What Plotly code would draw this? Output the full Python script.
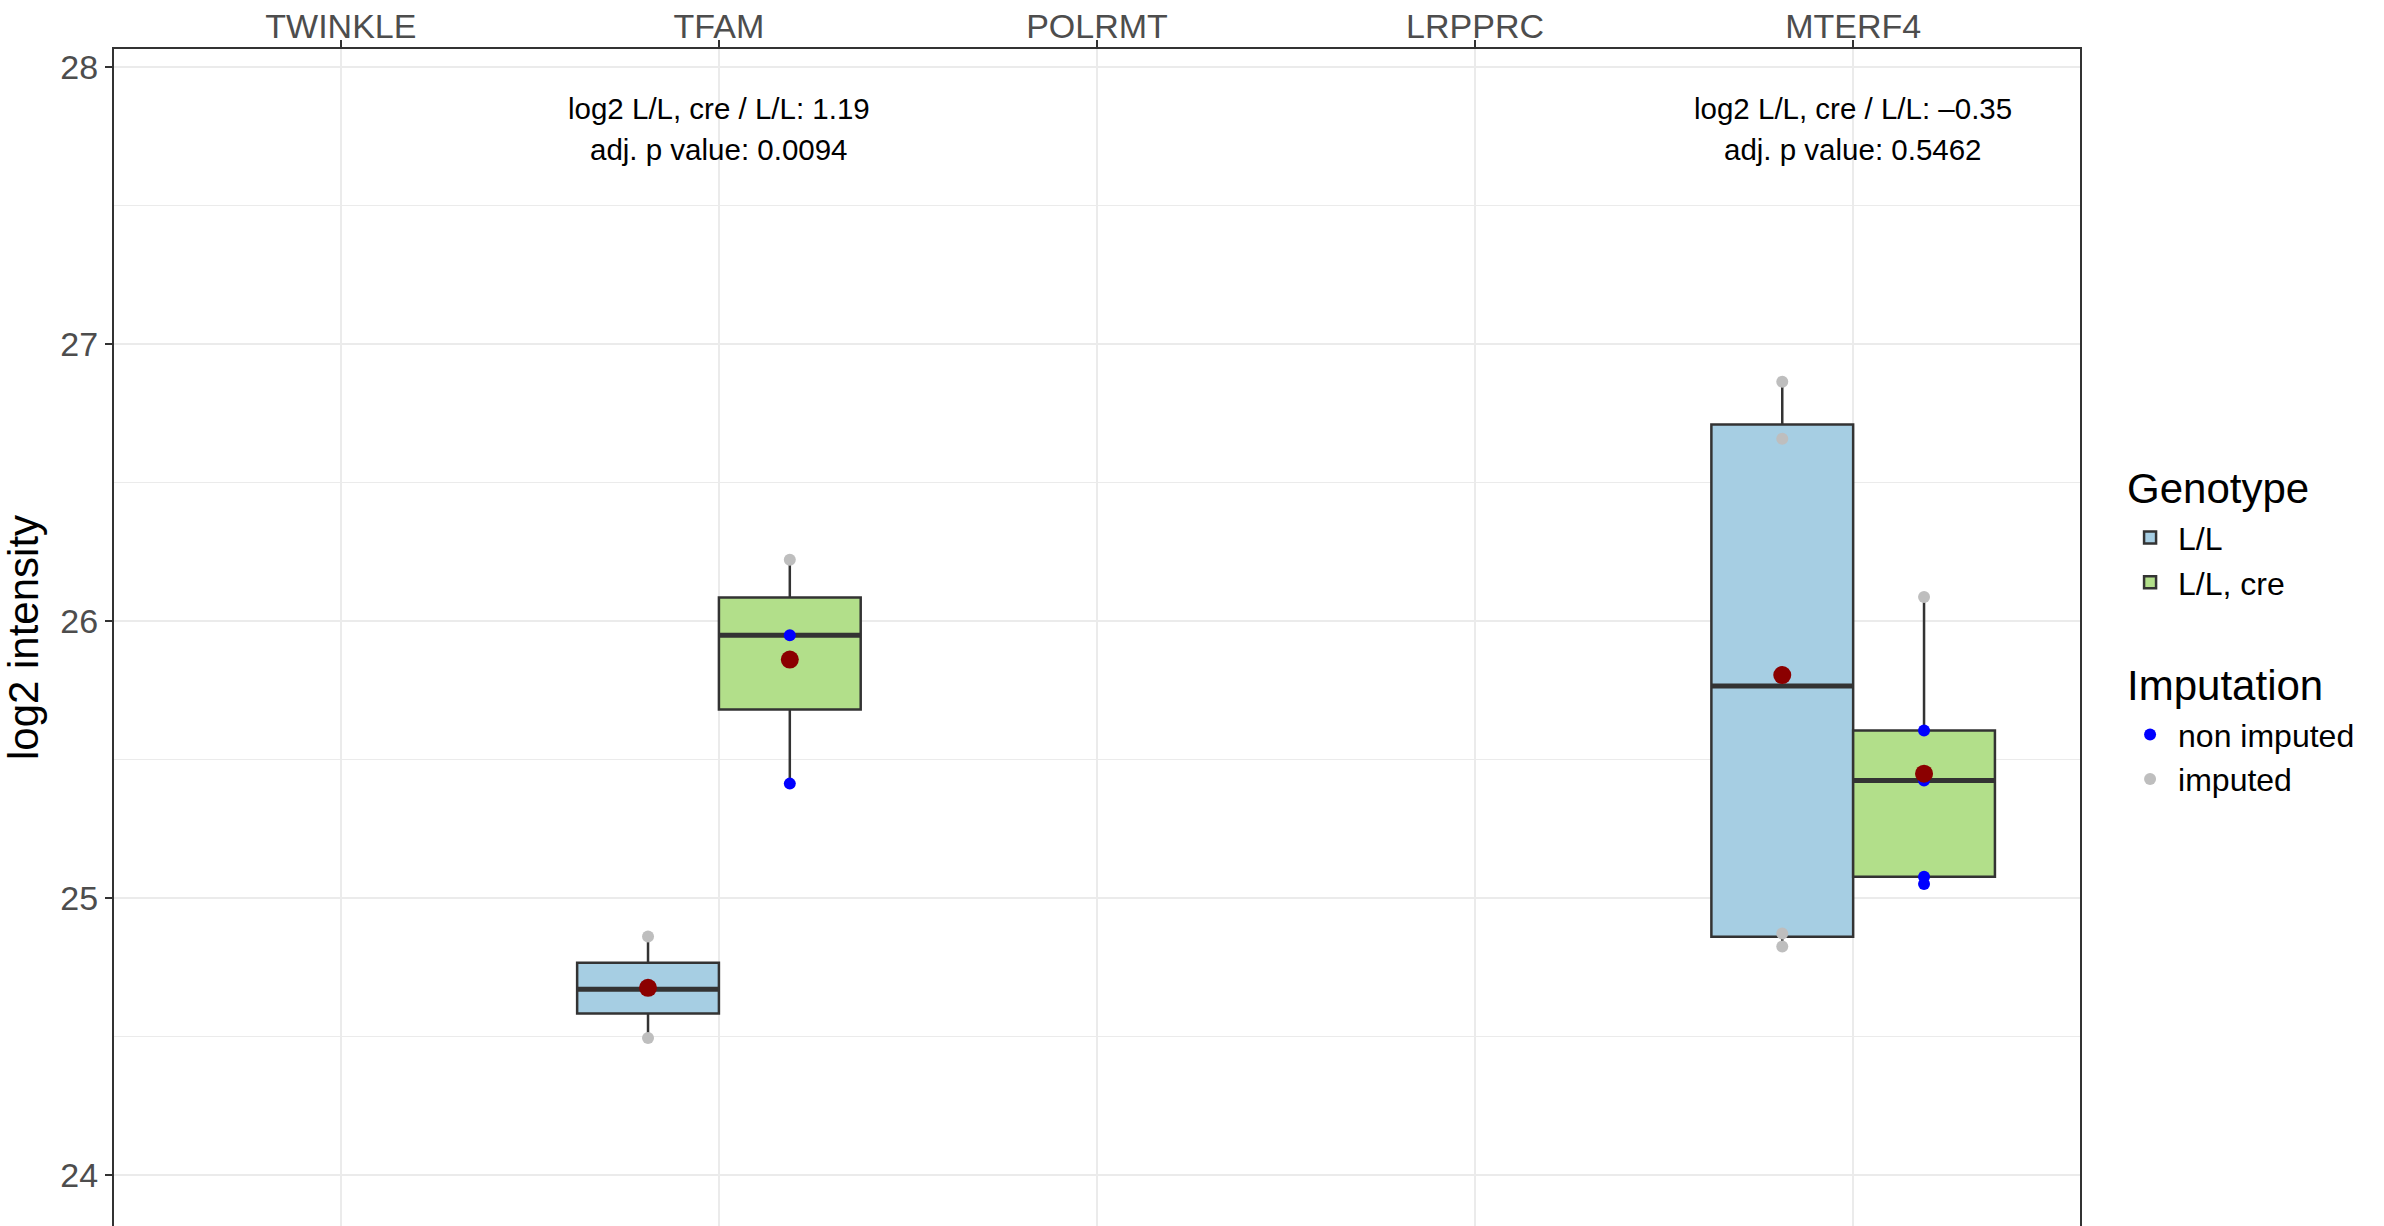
import numpy as np
import plotly.graph_objects as go

# categories on the (top) x axis
genes = ["TWINKLE", "TFAM", "POLRMT", "LRPPRC", "MTERF4"]
genotypes = ["L/L", "L/L, cre"]
box_fill = {"L/L": "#A6CEE3", "L/L, cre": "#B2DF8A"}

# one entry per sample
sample_gene = ["TFAM"] * 6 + ["MTERF4"] * 9
sample_genotype = ["L/L"] * 3 + ["L/L, cre"] * 3 + ["L/L"] * 4 + ["L/L, cre"] * 5
sample_value = [24.495, 24.671, 24.861, 25.413, 25.949, 26.221,
                24.825, 24.872, 26.658, 26.864,
                25.051, 25.077, 25.424, 25.605, 26.087]
sample_imputed = [True, True, True, False, False, True,
                  True, True, True, True,
                  False, False, False, False, True]

# test results printed over the genes
stats_gene = ["TFAM", "MTERF4"]
stats_log2fc = ["1.19", "\u20130.35"]
stats_padj = ["0.0094", "0.5462"]

# dodge like ggplot: 0.75 wide per gene, split between the two genotypes
dodge = 0.75
box_w = dodge / len(genotypes)
offsets = {g: -dodge / 2 + box_w * (i + 0.5) for i, g in enumerate(genotypes)}

sample_gene = np.array(sample_gene)
sample_genotype = np.array(sample_genotype)
sample_value = np.array(sample_value)
sample_imputed = np.array(sample_imputed)
sample_x = np.array([genes.index(g) for g in sample_gene]) + np.array([offsets[g] for g in sample_genotype])


def box_stats(vals):
    # same quantiles as R's default (type 7) and 1.5 IQR whiskers
    q1, med, q3 = np.percentile(vals, [25, 50, 75])
    iqr = q3 - q1
    lo = vals[vals >= q1 - 1.5 * iqr].min()
    hi = vals[vals <= q3 + 1.5 * iqr].max()
    return q1, med, q3, lo, hi


fig = go.Figure()

# boxes (+ a flat box on top for the thick median bar)
for g in genotypes:
    bx, q1s, meds, q3s, los, his = [], [], [], [], [], []
    for gene in genes:
        m = (sample_gene == gene) & (sample_genotype == g)
        if m.any():
            q1, med, q3, lo, hi = box_stats(sample_value[m])
            bx.append(genes.index(gene) + offsets[g])
            q1s.append(q1); meds.append(med); q3s.append(q3); los.append(lo); his.append(hi)
    fig.add_trace(go.Box(
        x=bx, q1=q1s, median=meds, q3=q3s, lowerfence=los, upperfence=his, name=g,
        width=box_w, boxpoints=False, whiskerwidth=0,
        fillcolor=box_fill[g], line=dict(color="#333333", width=2.5),
        legendgroup="genotype", legendgrouptitle=dict(text="Genotype", font=dict(size=42)),
        hoverinfo="skip",
    ))
    fig.add_trace(go.Box(
        x=bx, q1=meds, median=meds, q3=meds, lowerfence=meds, upperfence=meds,
        width=box_w, boxpoints=False, whiskerwidth=0, showlegend=False,
        fillcolor="#333333", line=dict(color="#333333", width=5), hoverinfo="skip",
    ))

# raw points
for label, flag, col in [("non imputed", False, "#0000FF"), ("imputed", True, "#BEBEBE")]:
    m = sample_imputed == flag
    fig.add_trace(go.Scatter(
        x=sample_x[m], y=sample_value[m], mode="markers", name=label,
        marker=dict(color=col, size=12),
        legendgroup="imputation", legendgrouptitle=dict(text="Imputation", font=dict(size=42)),
    ))

# group means
mean_x, mean_y = [], []
for gene in genes:
    for g in genotypes:
        m = (sample_gene == gene) & (sample_genotype == g)
        if m.any():
            mean_x.append(genes.index(gene) + offsets[g])
            mean_y.append(sample_value[m].mean())
fig.add_trace(go.Scatter(x=mean_x, y=mean_y, mode="markers", showlegend=False,
                         marker=dict(color="#8B0000", size=18)))

# annotations
for gene, fc, p in zip(stats_gene, stats_log2fc, stats_padj):
    xi = genes.index(gene)
    fig.add_annotation(x=xi, y=27.852, text=f"log2 L/L, cre / L/L: {fc}", showarrow=False,
                       font=dict(size=29.5, color="black"))
    fig.add_annotation(x=xi, y=27.704, text=f"adj. p value: {p}", showarrow=False,
                       font=dict(size=29.5, color="black"))

fig.update_layout(
    width=2384, height=1226,
    margin=dict(l=114, r=304, t=49, b=0),
    paper_bgcolor="white", plot_bgcolor="white",
    font=dict(family="Liberation Sans, Arial, sans-serif", color="black"),
    boxmode="overlay",
    xaxis=dict(
        side="top", range=[-0.6, len(genes) - 0.4],
        tickvals=list(range(len(genes))), ticktext=genes,
        tickfont=dict(size=34, color="#4D4D4D"), ticklabelstandoff=-12,
        ticks="outside", ticklen=7, tickwidth=2, tickcolor="#333333",
        showgrid=True, gridcolor="#EBEBEB", gridwidth=2,
        showline=True, linecolor="#333333", linewidth=2, mirror=False,
        zeroline=False, automargin=False,
    ),
    yaxis=dict(
        range=[23.816, 28.065], dtick=1, tick0=24,
        tickfont=dict(size=34, color="#4D4D4D"),
        ticks="outside", ticklen=7, tickwidth=2, tickcolor="#333333",
        showgrid=True, gridcolor="#EBEBEB", gridwidth=2,
        minor=dict(dtick=0.5, showgrid=True, gridcolor="#EBEBEB", gridwidth=1),
        showline=True, linecolor="#333333", linewidth=2, mirror=True,
        zeroline=False, automargin=False,
        title=dict(text="log2 intensity", font=dict(size=42), standoff=10),
    ),
    legend=dict(
        x=1.0214, y=0.657, xanchor="left", yanchor="top",
        font=dict(size=32), itemwidth=46, tracegroupgap=50, bgcolor="rgba(0,0,0,0)",
    ),
    showlegend=True,
)

# drop the browser's default 8px body margin so the figure sits at the page corner
fig.write_html("out.html", config={"displayModeBar": False},
               post_script="document.body.style.margin='0';")
